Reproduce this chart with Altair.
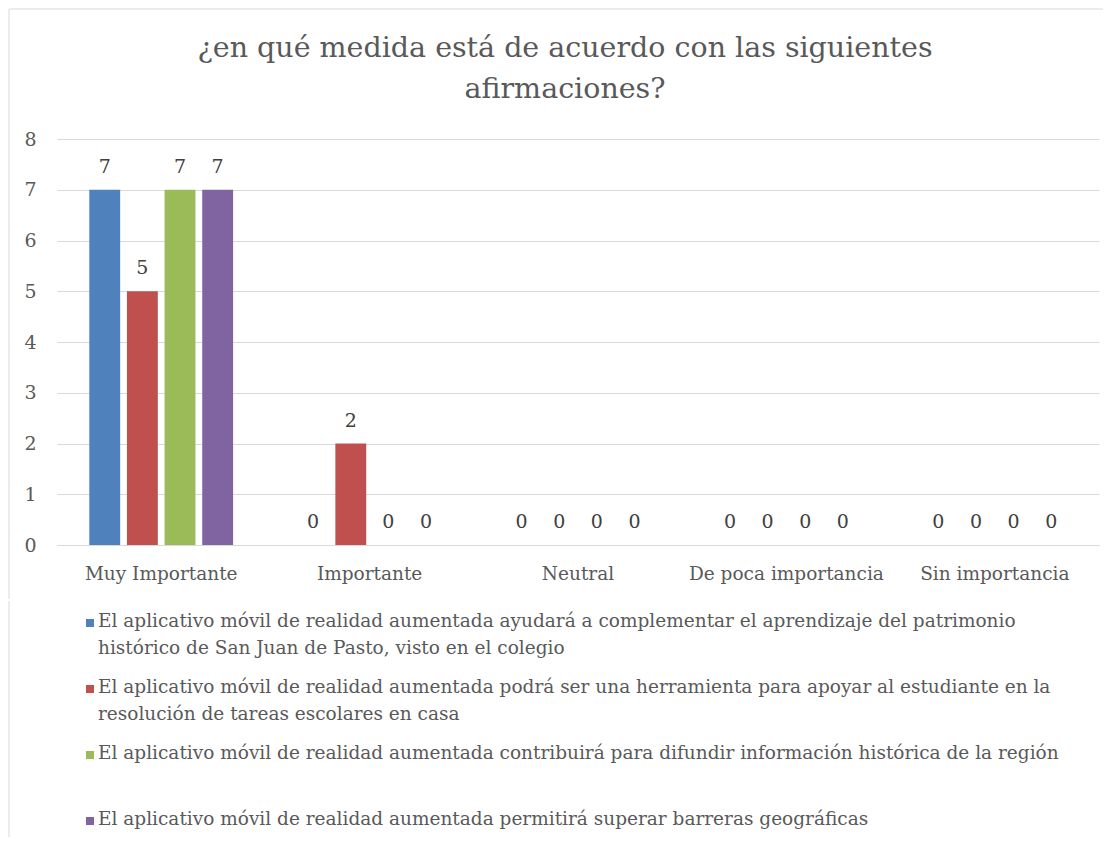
import altair as alt
import pandas as pd

FONT = "DejaVu Serif"
GRAY = "#595959"
BORDER = "#d9d9d9"

categories = ["Muy Importante", "Importante", "Neutral", "De poca importancia", "Sin importancia"]
series_keys = ["S1", "S2", "S3", "S4"]
legend_texts = [
    "El aplicativo móvil de realidad aumentada ayudará a complementar el aprendizaje del patrimonio\nhistórico de San Juan de Pasto, visto en el colegio",
    "El aplicativo móvil de realidad aumentada podrá ser una herramienta para apoyar al estudiante en la\nresolución de tareas escolares en casa",
    "El aplicativo móvil de realidad aumentada contribuirá para difundir información histórica de la región",
    "El aplicativo móvil de realidad aumentada permitirá superar barreras geográficas",
]
values_s1 = [7, 0, 0, 0, 0]
values_s2 = [5, 2, 0, 0, 0]
values_s3 = [7, 0, 0, 0, 0]
values_s4 = [7, 0, 0, 0, 0]
colors = ["#4F81BD", "#C0504D", "#9BBB59", "#8064A2"]

rows = []
for key, vals in zip(series_keys, [values_s1, values_s2, values_s3, values_s4]):
    for cat, v in zip(categories, vals):
        rows.append({"category": cat, "serie": key, "value": v})
df = pd.DataFrame(rows)

color_scale = alt.Scale(domain=series_keys, range=colors)

base = alt.Chart(df).encode(
    x=alt.X(
        "category:N",
        sort=categories,
        scale=alt.Scale(paddingInner=0.31, paddingOuter=0.155),
        axis=alt.Axis(
            title=None, labelAngle=0, labelFont=FONT, labelFontSize=18.5,
            labelColor=GRAY, ticks=False, domain=True, domainColor=BORDER,
            labelPadding=19, labelLimit=400,
        ),
    ),
    xOffset=alt.XOffset("serie:N", sort=series_keys,
                        scale=alt.Scale(paddingInner=0.18, paddingOuter=0)),
    y=alt.Y(
        "value:Q",
        scale=alt.Scale(domain=[0, 8], nice=False),
        axis=alt.Axis(
            title=None, values=list(range(9)), labelFont=FONT, labelFontSize=19,
            labelColor=GRAY, ticks=False, domain=False, grid=True,
            gridColor=BORDER, gridWidth=1, labelPadding=21,
        ),
    ),
)

bars = base.mark_bar().encode(
    color=alt.Color("serie:N", scale=color_scale, legend=None)
)
labels = base.mark_text(dy=-23, font=FONT, fontSize=19, color="#404040").encode(
    text=alt.Text("value:Q")
)

frame_df = pd.DataFrame({"k": [0]})
frame_left_top = alt.Chart(frame_df).mark_rule(color=BORDER, strokeWidth=1).encode(
    x=alt.value(-48), y=alt.value(-130), y2=alt.value(460)
)
frame_top = alt.Chart(frame_df).mark_rule(color=BORDER, strokeWidth=1).encode(
    x=alt.value(-48), x2=alt.value(1046), y=alt.value(-130)
)
bar_chart = (bars + labels + frame_left_top + frame_top).properties(width=1042, height=406)

leg_df = pd.DataFrame({"serie": series_keys, "text": legend_texts})
leg_base = alt.Chart(leg_df).encode(
    y=alt.Y("serie:N", sort=series_keys, axis=None,
            scale=alt.Scale(paddingInner=0, paddingOuter=0, range=[-51, 213]))
)
squares = leg_base.mark_square(size=64, opacity=1).encode(
    x=alt.value(33),
    color=alt.Color("serie:N", scale=color_scale, legend=None),
)
texts = leg_base.mark_text(
    align="left", baseline="top", dy=-11, lineBreak="\n", lineHeight=27,
    font=FONT, fontSize=18.5, color=GRAY,
).encode(x=alt.value(41), text="text:N")
frame_left_bottom = alt.Chart(frame_df).mark_rule(color=BORDER, strokeWidth=1).encode(
    x=alt.value(-48), y=alt.value(-40), y2=alt.value(196)
)
legend_chart = (squares + texts + frame_left_bottom).properties(width=1042, height=196)

chart = alt.vconcat(bar_chart, legend_chart, spacing=0).properties(
    title=alt.Title(
        ["¿en qué medida está de acuerdo con las siguientes", "afirmaciones?"],
        font=FONT, fontSize=28.5, fontWeight="normal", color=GRAY,
        lineHeight=41, anchor="middle", offset=-95, dx=9,
    ),
    padding={"left": 0, "top": 0, "right": 0, "bottom": 0},
).configure_view(stroke=None)

chart.save("out.html", embed_options={"renderer": "svg", "actions": False})
